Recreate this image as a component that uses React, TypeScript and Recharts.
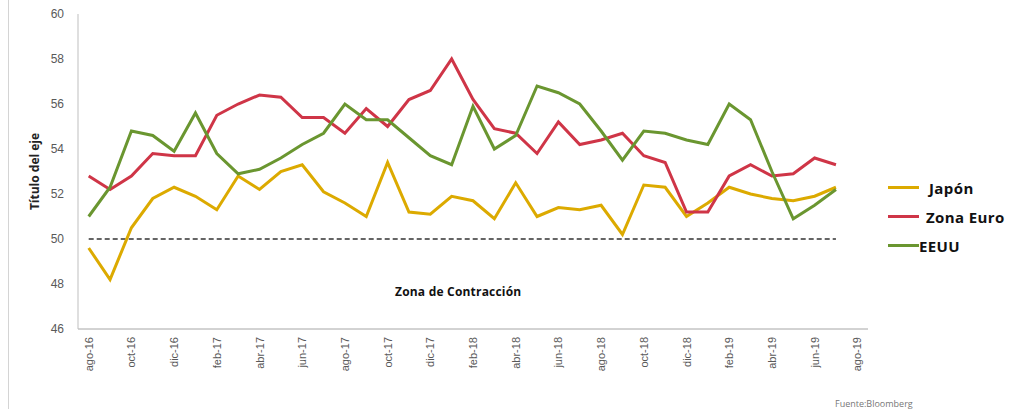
import React from 'react';
import { LineChart, Line, XAxis, YAxis, ReferenceLine, Legend } from 'recharts';

// monthly axis: ago-16 .. ago-19 (last month has no data)
const months = [
    'ago-16', 'sep-16', 'oct-16', 'nov-16', 'dic-16', 'ene-17', 'feb-17', 'mar-17', 'abr-17', 'may-17',
    'jun-17', 'jul-17', 'ago-17', 'sep-17', 'oct-17', 'nov-17', 'dic-17', 'ene-18', 'feb-18', 'mar-18',
    'abr-18', 'may-18', 'jun-18', 'jul-18', 'ago-18', 'sep-18', 'oct-18', 'nov-18', 'dic-18', 'ene-19',
    'feb-19', 'mar-19', 'abr-19', 'may-19', 'jun-19', 'jul-19', 'ago-19'
];

const japon = [
    49.6, 48.2, 50.5, 51.8, 52.3, 51.9, 51.3, 52.8, 52.2, 53.0,
    53.3, 52.1, 51.6, 51.0, 53.4, 51.2, 51.1, 51.9, 51.7, 50.9,
    52.5, 51.0, 51.4, 51.3, 51.5, 50.2, 52.4, 52.3, 51.0, 51.6,
    52.3, 52.0, 51.8, 51.7, 51.9, 52.3
];

const zonaEuro = [
    52.8, 52.2, 52.8, 53.8, 53.7, 53.7, 55.5, 56.0, 56.4, 56.3,
    55.4, 55.4, 54.7, 55.8, 55.0, 56.2, 56.6, 58.0, 56.2, 54.9,
    54.7, 53.8, 55.2, 54.2, 54.4, 54.7, 53.7, 53.4, 51.2, 51.2,
    52.8, 53.3, 52.8, 52.9, 53.6, 53.3
];

const eeuu = [
    51.0, 52.3, 54.8, 54.6, 53.9, 55.6, 53.8, 52.9, 53.1, 53.6,
    54.2, 54.7, 56.0, 55.3, 55.3, 54.5, 53.7, 53.3, 55.9, 54.0,
    54.6, 56.8, 56.5, 56.0, 54.8, 53.5, 54.8, 54.7, 54.4, 54.2,
    56.0, 55.3, 53.0, 50.9, 51.5, 52.2
];

const yTicks = [46, 48, 50, 52, 54, 56, 58, 60];

const COLORS = { japon: '#dcaa00', euro: '#cf3547', eeuu: '#6a9630' };

const chartData = months.map((m, i) => ({
    month: m,
    japon: japon[i],
    zonaEuro: zonaEuro[i],
    eeuu: eeuu[i]
}));

const MonthTick = ({ x, y, payload }: any) => (
    <g transform={`translate(${x},${y})`}>
        <text x={0} y={0} dy={4} textAnchor="end" transform="rotate(-90)" fontSize={11} fill="#595959"
            fontFamily="Arial, 'Liberation Sans', sans-serif">
            {payload.value}
        </text>
    </g>
);

const LegendBox = () => {
    const items = [
        { name: 'Japón', color: COLORS.japon, gap: 10 },
        { name: 'Zona Euro', color: COLORS.euro, gap: 7 },
        { name: 'EEUU', color: COLORS.eeuu, gap: 0 }
    ];
    return (
        <div>
            {items.map(it => (
                <div key={it.name} style={{ display: 'flex', alignItems: 'center', height: 29 }}>
                    <div style={{ width: 31, height: 3, background: it.color, marginRight: it.gap }} />
                    <span style={{ fontSize: 15, fontWeight: 700, color: '#111', whiteSpace: 'nowrap', letterSpacing: 0.4 }}>
                        {it.name}
                    </span>
                </div>
            ))}
        </div>
    );
};

export default function App() {
    return (
        <div style={{ position: 'absolute', left: 0, top: 0, width: 1012, height: 411, background: '#fff', overflow: 'hidden', fontFamily: "'Open Sans', Arial, sans-serif" }}>
            <div style={{ position: 'absolute', left: 8, top: 0, width: 1, height: 409, background: '#d4d4d4' }} />
            <div style={{ position: 'absolute', left: 0, top: 0 }}>
                <LineChart width={1012} height={411} data={chartData} margin={{ top: 14, right: 144, bottom: 0, left: 0 }}>
                    <XAxis
                        dataKey="month"
                        interval={1}
                        tick={<MonthTick />}
                        tickLine={false}
                        tickSize={0}
                        tickMargin={8}
                        padding={{ left: 10.7, right: 10.7 }}
                        axisLine={{ stroke: '#a6a6a6' }}
                        height={82}
                    />
                    <YAxis
                        domain={[46, 60]}
                        ticks={yTicks}
                        width={78}
                        tickLine={false}
                        tickSize={0}
                        tickMargin={14}
                        axisLine={{ stroke: '#bfbfbf' }}
                        tick={{ fontSize: 12, fill: '#595959', fontFamily: "Arial, 'Liberation Sans', sans-serif" }}
                        label={{
                            value: 'Título del eje', angle: -90, position: 'insideLeft', offset: 35,
                            style: { textAnchor: 'middle', fontSize: 12, fontWeight: 700, fill: '#222' }
                        }}
                    />
                    <ReferenceLine
                        segment={[{ x: 'ago-16', y: 50 }, { x: 'jul-19', y: 50 }]}
                        stroke="#333"
                        strokeDasharray="5 3"
                        strokeWidth={1.3}
                    />
                    <Legend
                        layout="vertical"
                        align="center"
                        verticalAlign="middle"
                        content={<LegendBox />}
                        wrapperStyle={{ position: 'absolute', left: 888, top: 173, width: 130 }}
                    />
                    <Line type="linear" dataKey="japon" name="Japón" stroke={COLORS.japon} strokeWidth={3} dot={false} isAnimationActive={false} />
                    <Line type="linear" dataKey="zonaEuro" name="Zona Euro" stroke={COLORS.euro} strokeWidth={3} dot={false} isAnimationActive={false} />
                    <Line type="linear" dataKey="eeuu" name="EEUU" stroke={COLORS.eeuu} strokeWidth={3} dot={false} isAnimationActive={false} />
                </LineChart>
            </div>
            <div style={{ position: 'absolute', left: 395, top: 283, fontSize: 12, fontWeight: 700, color: '#111', letterSpacing: 0.2 }}>
                Zona de Contracción
            </div>
            <div style={{ position: 'absolute', left: 835, top: 397, fontSize: 9, color: '#777' }}>
                Fuente:Bloomberg
            </div>
        </div>
    );
}
